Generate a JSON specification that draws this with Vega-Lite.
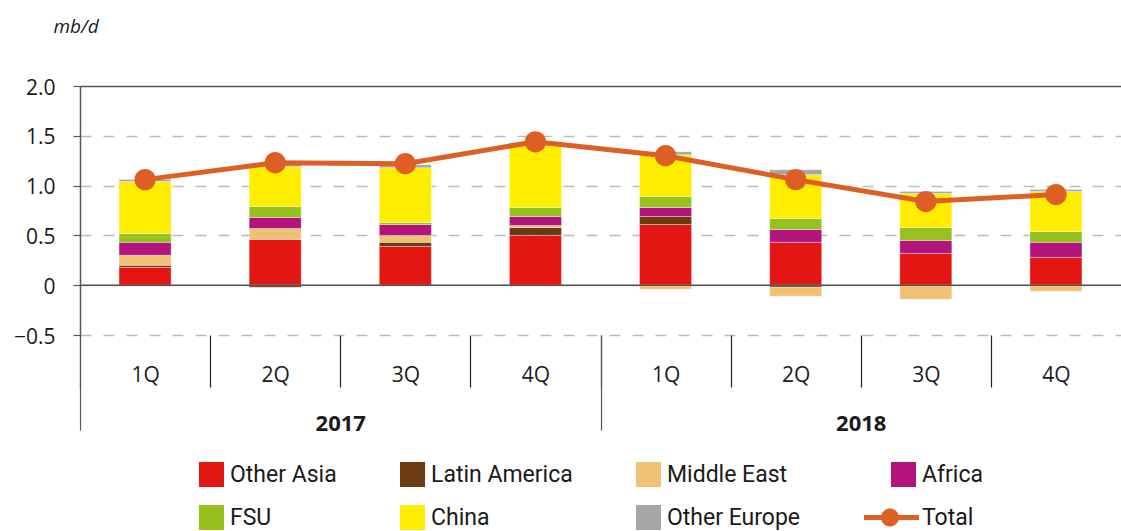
{
  "$schema": "https://vega.github.io/schema/vega-lite/v6.json",
  "width": 1041,
  "height": 249,
  "autosize": {"type": "none"},
  "padding": {"left": 80, "top": 86, "right": 0, "bottom": 196},
  "background": "white",
  "config": {"view": {"stroke": null}, "font": "Open Sans"},
  "datasets": {
    "bars": [
      {"period": "2017 1Q", "region": "Other Asia", "k": 1, "value": 0.18},
      {"period": "2017 1Q", "region": "Latin America", "k": 2, "value": 0.02},
      {"period": "2017 1Q", "region": "Middle East", "k": 3, "value": 0.10},
      {"period": "2017 1Q", "region": "Africa", "k": 4, "value": 0.13},
      {"period": "2017 1Q", "region": "FSU", "k": 5, "value": 0.09},
      {"period": "2017 1Q", "region": "China", "k": 6, "value": 0.52},
      {"period": "2017 1Q", "region": "Other Europe", "k": 7, "value": 0.02},
      {"period": "2017 2Q", "region": "Other Asia", "k": 1, "value": 0.46},
      {"period": "2017 2Q", "region": "Latin America", "k": 2, "value": -0.02},
      {"period": "2017 2Q", "region": "Middle East", "k": 3, "value": 0.11},
      {"period": "2017 2Q", "region": "Africa", "k": 4, "value": 0.11},
      {"period": "2017 2Q", "region": "FSU", "k": 5, "value": 0.11},
      {"period": "2017 2Q", "region": "China", "k": 6, "value": 0.40},
      {"period": "2017 2Q", "region": "Other Europe", "k": 7, "value": 0.03},
      {"period": "2017 3Q", "region": "Other Asia", "k": 1, "value": 0.39},
      {"period": "2017 3Q", "region": "Latin America", "k": 2, "value": 0.04},
      {"period": "2017 3Q", "region": "Middle East", "k": 3, "value": 0.07},
      {"period": "2017 3Q", "region": "Africa", "k": 4, "value": 0.11},
      {"period": "2017 3Q", "region": "FSU", "k": 5, "value": 0.02},
      {"period": "2017 3Q", "region": "China", "k": 6, "value": 0.55},
      {"period": "2017 3Q", "region": "Other Europe", "k": 7, "value": 0.03},
      {"period": "2017 4Q", "region": "Other Asia", "k": 1, "value": 0.50},
      {"period": "2017 4Q", "region": "Latin America", "k": 2, "value": 0.08},
      {"period": "2017 4Q", "region": "Middle East", "k": 3, "value": 0.02},
      {"period": "2017 4Q", "region": "Africa", "k": 4, "value": 0.09},
      {"period": "2017 4Q", "region": "FSU", "k": 5, "value": 0.09},
      {"period": "2017 4Q", "region": "China", "k": 6, "value": 0.62},
      {"period": "2017 4Q", "region": "Other Europe", "k": 7, "value": 0.03},
      {"period": "2018 1Q", "region": "Other Asia", "k": 1, "value": 0.61},
      {"period": "2018 1Q", "region": "Latin America", "k": 2, "value": 0.08},
      {"period": "2018 1Q", "region": "Middle East", "k": 3, "value": -0.04},
      {"period": "2018 1Q", "region": "Africa", "k": 4, "value": 0.09},
      {"period": "2018 1Q", "region": "FSU", "k": 5, "value": 0.11},
      {"period": "2018 1Q", "region": "China", "k": 6, "value": 0.42},
      {"period": "2018 1Q", "region": "Other Europe", "k": 7, "value": 0.03},
      {"period": "2018 2Q", "region": "Other Asia", "k": 1, "value": 0.43},
      {"period": "2018 2Q", "region": "Latin America", "k": 2, "value": -0.02},
      {"period": "2018 2Q", "region": "Middle East", "k": 3, "value": -0.09},
      {"period": "2018 2Q", "region": "Africa", "k": 4, "value": 0.13},
      {"period": "2018 2Q", "region": "FSU", "k": 5, "value": 0.11},
      {"period": "2018 2Q", "region": "China", "k": 6, "value": 0.44},
      {"period": "2018 2Q", "region": "Other Europe", "k": 7, "value": 0.05},
      {"period": "2018 3Q", "region": "Other Asia", "k": 1, "value": 0.32},
      {"period": "2018 3Q", "region": "Middle East", "k": 3, "value": -0.14},
      {"period": "2018 3Q", "region": "Africa", "k": 4, "value": 0.13},
      {"period": "2018 3Q", "region": "FSU", "k": 5, "value": 0.13},
      {"period": "2018 3Q", "region": "China", "k": 6, "value": 0.34},
      {"period": "2018 3Q", "region": "Other Europe", "k": 7, "value": 0.02},
      {"period": "2018 4Q", "region": "Other Asia", "k": 1, "value": 0.28},
      {"period": "2018 4Q", "region": "Middle East", "k": 3, "value": -0.06},
      {"period": "2018 4Q", "region": "Africa", "k": 4, "value": 0.15},
      {"period": "2018 4Q", "region": "FSU", "k": 5, "value": 0.11},
      {"period": "2018 4Q", "region": "China", "k": 6, "value": 0.40},
      {"period": "2018 4Q", "region": "Other Europe", "k": 7, "value": 0.02}
    ],
    "totals": [
      {"period": "2017 1Q", "series": "Total", "total": 1.06},
      {"period": "2017 2Q", "series": "Total", "total": 1.23},
      {"period": "2017 3Q", "series": "Total", "total": 1.22},
      {"period": "2017 4Q", "series": "Total", "total": 1.44},
      {"period": "2018 1Q", "series": "Total", "total": 1.30},
      {"period": "2018 2Q", "series": "Total", "total": 1.06},
      {"period": "2018 3Q", "series": "Total", "total": 0.84},
      {"period": "2018 4Q", "series": "Total", "total": 0.91}
    ],
    "years": [
      {"year": "2017"},
      {"year": "2018"}
    ],
    "zero": [
      {"level": 0}
    ]
  },
  "layer": [
    {
      "layer": [
        {
          "data": {"name": "bars"},
          "mark": {"type": "bar", "stroke": "#ffffff", "strokeWidth": 0.5, "strokeOpacity": 0.7},
          "encoding": {
            "x": {
              "field": "period", "type": "nominal",
              "scale": {"domain": ["2017 1Q", "2017 2Q", "2017 3Q", "2017 4Q", "2018 1Q", "2018 2Q", "2018 3Q", "2018 4Q"], "paddingInner": 0.6, "paddingOuter": 0.3},
              "axis": null
            },
            "y": {
              "field": "value", "type": "quantitative", "stack": "zero",
              "scale": {"domain": [-0.5, 2], "nice": false, "zero": false},
              "axis": {
                "values": [-0.5, 0, 0.5, 1, 1.5, 2],
                "labelExpr": "datum.value === 0 ? '0' : format(datum.value, '.1f')",
                "labelFontSize": 21, "labelColor": "#1a1a1a", "labelPadding": 18, "labelOffset": 2,
                "grid": true,
                "gridColor": {"condition": {"test": "datum.value === 2", "value": "#555555"}, "value": "#bbbbbb"},
                "gridDash": {"condition": {"test": "datum.value === 2 || datum.value === 0", "value": []}, "value": [11, 12]},
                "gridWidth": 1.5,
                "domainColor": "#555555", "domainWidth": 1.5,
                "tickColor": "#555555", "tickSize": 7, "tickWidth": 1.2,
                "title": "mb/d", "titleAngle": 0, "titleAlign": "left", "titleBaseline": "alphabetic",
                "titleX": -27, "titleY": -54, "titleFontStyle": "italic", "titleFontWeight": "normal",
                "titleFontSize": 19, "titleColor": "#1a1a1a"
              }
            },
            "color": {
              "field": "region", "type": "nominal",
              "scale": {
                "domain": ["Other Asia", "Latin America", "Middle East", "Africa", "FSU", "China", "Other Europe", "Total"],
                "range": ["#e31614", "#6b3a12", "#efc173", "#b2137d", "#96c11f", "#ffed00", "#a6a6a6", "#dd5f26"]
              },
              "legend": {
                "title": null, "orient": "none", "legendX": 119, "legendY": 376,
                "direction": "horizontal", "columns": 4, "gridAlign": "each",
                "columnPadding": 63, "rowPadding": 18,
                "labelFont": "Roboto", "labelFontSize": 23, "labelColor": "#1a1a1a", "labelOffset": 6, "labelLimit": 300,
                "symbolSize": 625, "symbolType": "square", "symbolStrokeWidth": 0,
                "encode": {
                  "symbols": {
                    "update": {
                      "shape": {"signal": "datum.value === 'Total' ? 'M-3.16,-0.2H1.24V0.2H-3.16Z M-1.8,0A0.72,0.72 0 1,1 -0.36,0A0.72,0.72 0 1,1 -1.8,0Z' : 'square'"},
                      "fill": {"scale": "color", "field": "value"},
                      "opacity": {"value": 1},
                      "strokeWidth": {"value": 0}
                    }
                  }
                }
              }
            },
            "order": {"field": "k", "type": "quantitative"}
          }
        },
        {
          "data": {"name": "zero"},
          "mark": {"type": "rule", "color": "#555555", "strokeWidth": 1.5},
          "encoding": {"y": {"field": "level", "type": "quantitative"}}
        },
        {
          "data": {"name": "totals"},
          "mark": {"type": "line", "strokeWidth": 5},
          "encoding": {
            "x": {"field": "period", "type": "nominal"},
            "y": {"field": "total", "type": "quantitative"},
            "color": {
              "field": "series", "type": "nominal",
              "legend": {
                "title": null, "orient": "none", "legendX": 119, "legendY": 376,
                "direction": "horizontal", "columns": 4, "gridAlign": "each",
                "columnPadding": 63, "rowPadding": 18,
                "labelFont": "Roboto", "labelFontSize": 23, "labelColor": "#1a1a1a", "labelOffset": 6, "labelLimit": 300,
                "symbolSize": 625, "symbolType": "square", "symbolStrokeWidth": 0,
                "encode": {
                  "symbols": {
                    "update": {
                      "shape": {"signal": "datum.value === 'Total' ? 'M-3.16,-0.2H1.24V0.2H-3.16Z M-1.8,0A0.72,0.72 0 1,1 -0.36,0A0.72,0.72 0 1,1 -1.8,0Z' : 'square'"},
                      "fill": {"scale": "color", "field": "value"},
                      "opacity": {"value": 1},
                      "strokeWidth": {"value": 0}
                    }
                  }
                }
              }
            }
          }
        },
        {
          "data": {"name": "totals"},
          "mark": {"type": "point", "filled": true, "size": 452, "opacity": 1, "shape": "circle"},
          "encoding": {
            "x": {"field": "period", "type": "nominal"},
            "y": {"field": "total", "type": "quantitative"},
            "color": {"field": "series", "type": "nominal", "legend": null}
          }
        }
      ]
    },
    {
      "data": {"name": "totals"},
      "mark": {"type": "bar", "opacity": 0},
      "encoding": {
        "x": {
          "field": "period", "type": "nominal",
          "scale": {"paddingInner": 0, "paddingOuter": 0},
          "axis": {
            "title": null, "orient": "bottom", "domain": false, "grid": false,
            "tickBand": "extent", "tickSize": 52, "tickColor": "#222222", "tickWidth": 1.2,
            "tickOpacity": {"condition": {"test": "datum.index === 1", "value": 0}, "value": 1},
            "labelExpr": "datum.value ? substring(datum.value, 5) : ''",
            "labelFontSize": 21, "labelColor": "#1a1a1a",
            "labelBaseline": "alphabetic", "labelPadding": -6, "labelAngle": 0
          }
        }
      }
    },
    {
      "data": {"name": "years"},
      "mark": {"type": "bar", "opacity": 0},
      "encoding": {
        "x": {
          "field": "year", "type": "nominal",
          "scale": {"paddingInner": 0, "paddingOuter": 0},
          "axis": {
            "title": null, "orient": "bottom", "domain": false, "grid": false,
            "tickBand": "extent", "tickSize": 95, "tickColor": "#555555", "tickWidth": 1.2,
            "tickOpacity": {"condition": {"test": "datum.index === 1", "value": 0}, "value": 1},
            "labelFontSize": 22, "labelFontWeight": "bold", "labelColor": "#1a1a1a",
            "labelBaseline": "alphabetic", "labelPadding": 0, "labelAngle": 0
          }
        }
      }
    }
  ],
  "resolve": {"scale": {"x": "independent"}}
}
